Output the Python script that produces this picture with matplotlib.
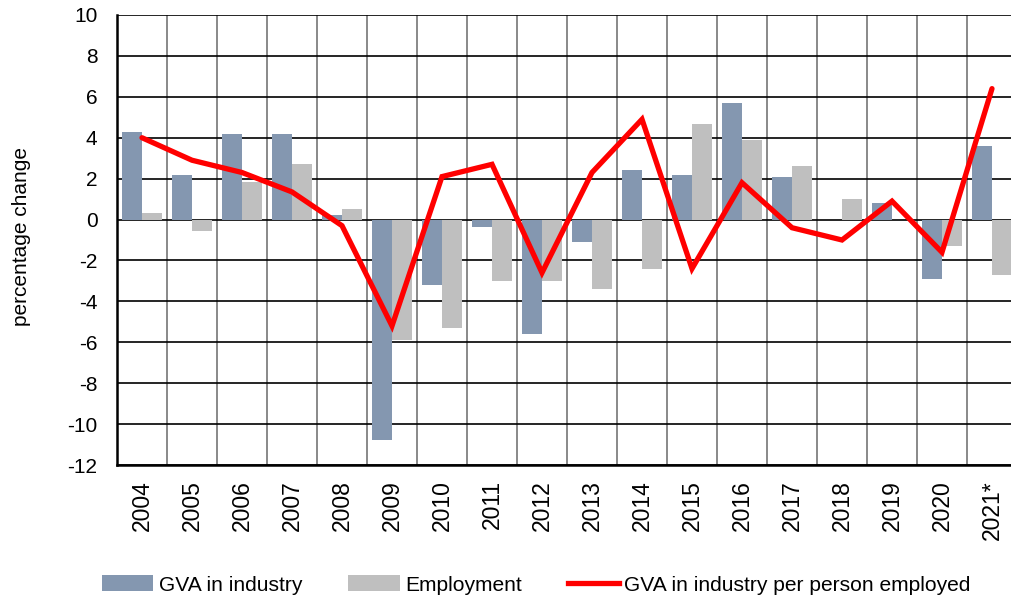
import numpy as np
import matplotlib
matplotlib.use("Agg")
import matplotlib.pyplot as plt
from matplotlib.patches import Patch
from matplotlib.lines import Line2D

plt.rcParams["font.family"] = ["Liberation Sans", "DejaVu Sans"]
plt.rcParams["axes.unicode_minus"] = False

years = ["2004", "2005", "2006", "2007", "2008", "2009", "2010", "2011", "2012",
         "2013", "2014", "2015", "2016", "2017", "2018", "2019", "2020", "2021*"]
gva_industry = [4.3, 2.2, 4.2, 4.2, 0.2, -10.8, -3.2, -0.35, -5.6,
                -1.1, 2.4, 2.2, 5.7, 2.1, 0.0, 0.8, -2.9, 3.6]
employment = [0.3, -0.55, 1.85, 2.7, 0.5, -5.9, -5.3, -3.0, -3.0,
              -3.4, -2.4, 4.65, 3.9, 2.6, 1.0, 0.0, -1.3, -2.7]
gva_per_person = [4.0, 2.9, 2.3, 1.35, -0.3, -5.2, 2.1, 2.7, -2.6,
                  2.3, 4.9, -2.4, 1.8, -0.4, -1.0, 0.9, -1.6, 6.4]

COLOR_GVA = "#8497B0"
COLOR_EMP = "#BFBFBF"
COLOR_LINE = "#FF0000"
FS = 15

fig = plt.figure(figsize=(10.12, 5.99), dpi=100, facecolor="white")
ax = fig.add_axes([117 / 1012, 1 - 465 / 599, 1 - 117 / 1012, (465 - 15) / 599])

x = np.arange(len(years))
w = 0.4
ax.bar(x - w / 2, gva_industry, width=w, color=COLOR_GVA, linewidth=0, zorder=2)
ax.bar(x + w / 2, employment, width=w, color=COLOR_EMP, linewidth=0, zorder=2)
ax.plot(x, gva_per_person, color=COLOR_LINE, lw=3.8, zorder=3,
        solid_joinstyle="miter", solid_capstyle="round")

ax.set_xlim(-0.5, 17.4)
ax.set_ylim(-12, 10)
ax.set_yticks(np.arange(-12, 11, 2))
ax.set_xticks(x)
ax.set_xticklabels(years, rotation=90, fontsize=16.5)
ax.set_xticks(x[:-1] + 0.5, minor=True)
ax.tick_params(axis="y", labelsize=FS, length=0, pad=14)
ax.tick_params(axis="x", which="both", length=0, pad=11)

ax.set_axisbelow(True)
ax.yaxis.grid(True, color="black", linewidth=1.2)
ax.xaxis.grid(True, which="minor", color="#808080", linewidth=1.3)
ax.xaxis.grid(False, which="major")

ax.spines["right"].set_visible(False)
ax.spines["top"].set_visible(False)
ax.spines["left"].set_linewidth(1.8)
ax.spines["bottom"].set_linewidth(1.8)

fig.text(22 / 1012, 1 - 237 / 599, "percentage change", rotation=90,
         ha="center", va="center", fontsize=FS)

handles = [
    Patch(facecolor=COLOR_GVA, edgecolor="none", label="GVA in industry"),
    Patch(facecolor=COLOR_EMP, edgecolor="none", label="Employment"),
    Line2D([0], [0], color=COLOR_LINE, lw=3.8, label="GVA in industry per person employed"),
]
fig.legend(handles=handles, loc="center", bbox_to_anchor=(0.530, 1 - 585 / 599),
           ncol=3, frameon=False, fontsize=15.1, handlelength=2.45,
           handletextpad=0.25, columnspacing=2.2, handleheight=0.8)

plt.savefig("out.png", dpi=100, facecolor="white")
plt.close()
